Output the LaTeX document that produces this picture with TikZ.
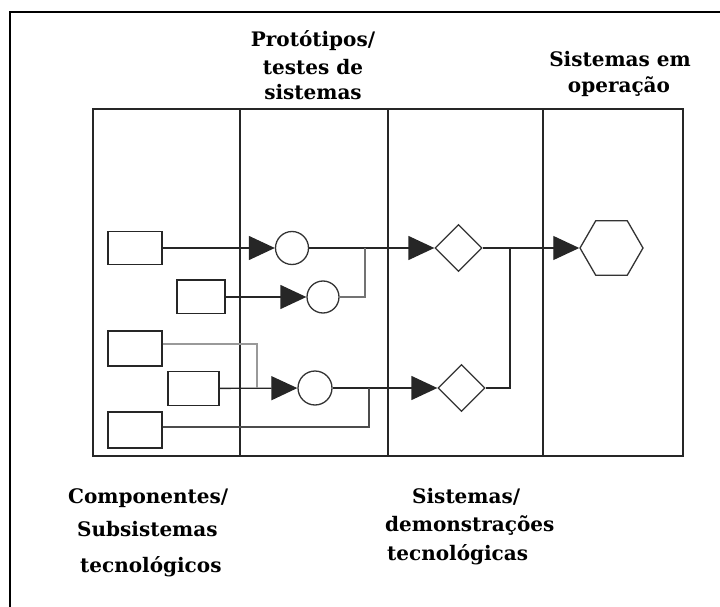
\documentclass[tikz,border=0pt]{standalone}
\usepackage{fontspec}
\setmainfont{DejaVu Serif}
\usetikzlibrary{shapes.geometric,arrows.meta}
\begin{document}
\begin{tikzpicture}[x=1pt,y=-1pt,
  boxline/.style={line width=1.5pt,draw=black!85},
  rectbox/.style={draw=black!85,line width=1.4pt,inner sep=0pt,fill=white},
  circbox/.style={circle,draw=black!80,line width=1.3pt,inner sep=0pt,fill=white},
  diabox/.style={diamond,draw=black!80,line width=1.3pt,inner sep=0pt,minimum size=47pt,fill=white},
  hexbox/.style={regular polygon,regular polygon sides=6,draw=black!80,line width=1.3pt,inner sep=0pt,minimum size=63pt,fill=white},
  conn/.style={draw=black!85,line width=1.3pt},
  arrowconn/.style={conn,-{Triangle[length=26pt,width=24pt]}},
  grayconn/.style={draw=black!55,line width=1.3pt},
  lightconn/.style={draw=black!40,line width=1.3pt},
  midconn/.style={draw=black!70,line width=1.3pt},
  lbl/.style={font=\fontsize{20}{24}\selectfont\bfseries,inner sep=0pt,text=black}]
\useasboundingbox (0,0) rectangle (720,607);
% outer frame (left and top edges visible)
\draw[line width=1.8pt] (10,607) -- (10,12) -- (720,12);
% main box and column dividers
\draw[boxline] (93,109) rectangle (683,456);
\draw[boxline] (240,109) -- (240,456);
\draw[boxline] (388,109) -- (388,456);
\draw[boxline] (543,109) -- (543,456);
% component rectangles
\node[rectbox,minimum width=54pt,minimum height=33pt] (r1) at (135,248) {};
\node[rectbox,minimum width=48pt,minimum height=33pt] (r2) at (201,297) {};
\draw[line width=2.6pt,black!85] (r2.north west) -- (r2.north east);
\node[rectbox,minimum width=54pt,minimum height=35pt] (r3) at (135,348.5) {};
\node[rectbox,minimum width=51pt,minimum height=34pt] (r4) at (193.5,388.5) {};
\node[rectbox,minimum width=54pt,minimum height=36pt] (r5) at (135,430) {};
% prototypes
\node[circbox,minimum size=33pt] (c1) at (292,248) {};
\node[circbox,minimum size=32pt] (c2) at (323,297) {};
\node[circbox,minimum size=34pt] (c3) at (315,388) {};
% systems / demonstrations
\node[diabox] (d1) at (458.5,248) {};
\node[diabox] (d2) at (461.5,388) {};
% systems in operation
\node[hexbox] (h) at (611.5,248) {};
% junction points
\coordinate (j1) at (365,248);
\coordinate (j2) at (257,388);
\coordinate (j3) at (369,388);
\coordinate (j4) at (510,248);
% connectors
\draw[arrowconn] (r1) -- (c1);
\draw[arrowconn] (r2) -- (c2);
\draw[arrowconn] (c1) -- (d1);
\draw[arrowconn] (r4) -- (c3);
\draw[arrowconn] (c3) -- (d2);
\draw[arrowconn] (d1) -- (h);
\draw[grayconn] (c2.east) -| (j1);
\draw[lightconn] ([yshift=4.5pt]r3.east) -| (j2);
\draw[midconn] ([yshift=3pt]r5.east) -| (j3);
\draw[conn] (d2.east) -| (j4);
% labels
\node[lbl,anchor=base] (ta1) at (313,47) {Protótipos/};
\node[lbl,anchor=base] (ta2) at (313,75) {testes de};
\node[lbl,anchor=base] (ta3) at (313,100) {sistemas};
\node[lbl,anchor=base] (tb1) at (620,67) {Sistemas em};
\node[lbl,anchor=base] (tb2) at (619,93) {operação};
\node[lbl,anchor=base west] (tc1) at (68,503) {Componentes/};
\node[lbl,anchor=base west] (tc2) at (77,536) {Subsistemas};
\node[lbl,anchor=base west] (tc3) at (80,572) {tecnológicos};
\node[lbl,anchor=base west] (td1) at (412,503) {Sistemas/};
\node[lbl,anchor=base west] (td2) at (385,531) {demonstrações};
\node[lbl,anchor=base west] (td3) at (387,560) {tecnológicas};
\end{tikzpicture}
\end{document}
